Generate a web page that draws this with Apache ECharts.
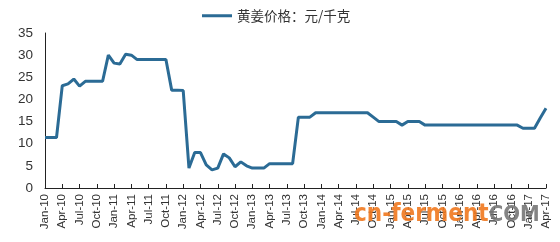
<!DOCTYPE html>
<html>
<head>
<meta charset="utf-8">
<script src="https://cdn.jsdelivr.net/npm/echarts@6/dist/echarts.min.js"></script>
<style>html,body{margin:0;padding:0;background:#fff;}#c{width:560px;height:242px;}</style>
</head>
<body>
<div id="c"></div>
<script>
var monthNames = ['Jan','Feb','Mar','Apr','May','Jun','Jul','Aug','Sep','Oct','Nov','Dec'];
var years = ['10','11','12','13','14','15','16','17'];
var lastMonthCount = 4; // 2017 runs Jan..Apr
var seriesName = '黄姜价格：元/千克';
var yTicks = [0, 5, 10, 15, 20, 25, 30, 35];
var prices = [
  // 2010
  11.4, 11.4, 11.4, 23.1, 23.5, 24.6, 23.0, 24.1, 24.1, 24.1, 24.1, 30.0,
  // 2011
  28.2, 28.0, 30.2, 30.0, 29.0, 29.0, 29.0, 29.0, 29.0, 29.0, 22.1, 22.1,
  // 2012
  22.0, 4.5, 8.0, 8.0, 5.2, 4.1, 4.5, 7.7, 6.8, 4.8, 5.9, 5.0,
  // 2013
  4.5, 4.5, 4.5, 5.5, 5.5, 5.5, 5.5, 5.5, 16.0, 16.0, 16.0, 17.0,
  // 2014
  17.0, 17.0, 17.0, 17.0, 17.0, 17.0, 17.0, 17.0, 17.0, 16.0, 15.0, 15.0,
  // 2015
  15.0, 15.0, 14.2, 15.0, 15.0, 15.0, 14.2, 14.2, 14.2, 14.2, 14.2, 14.2,
  // 2016
  14.2, 14.2, 14.2, 14.2, 14.2, 14.2, 14.2, 14.2, 14.2, 14.2, 14.2, 13.5,
  // 2017
  13.5, 13.5, 15.8, 18.0
];

var categories = [];
years.forEach(function (y, i) {
  var n = (i === years.length - 1) ? lastMonthCount : 12;
  for (var m = 0; m < n; m++) categories.push(monthNames[m] + '-' + y);
});

var chart = echarts.init(document.getElementById('c'), null, {renderer: 'canvas'});
chart.setOption({
  animation: false,
  backgroundColor: '#ffffff',
  legend: {
    top: 4,
    left: 197,
    itemWidth: 30,
    itemHeight: 12,
    itemGap: 3,
    icon: 'path://M0,5 L30,5 L30,8 L0,8 Z',
    textStyle: {fontFamily: 'Noto Sans CJK SC', fontSize: 13.5, color: '#333'},
    data: [seriesName]
  },
  grid: {left: 45, right: 14, top: 33, bottom: 54},
  xAxis: {
    type: 'category',
    boundaryGap: false,
    data: categories,
    axisLine: {lineStyle: {color: '#222', width: 1}},
    axisTick: {show: true, inside: true, length: 4, interval: 2, lineStyle: {color: '#222'}},
    axisLabel: {
      interval: 2,
      rotate: 90,
      margin: 6,
      fontFamily: 'Liberation Sans',
      fontSize: 11.5,
      color: '#333'
    },
    splitLine: {show: false}
  },
  yAxis: {
    type: 'value',
    min: yTicks[0],
    max: yTicks[yTicks.length - 1],
    interval: 5,
    axisLine: {show: true, lineStyle: {color: '#222', width: 1}},
    axisTick: {show: false},
    axisLabel: {margin: 12, fontFamily: 'Liberation Sans', fontSize: 13.5, color: '#333'},
    splitLine: {show: false}
  },
  series: [{
    name: seriesName,
    type: 'line',
    data: prices,
    symbol: 'none',
    lineStyle: {color: '#2b6b95', width: 3},
    itemStyle: {color: '#2b6b95'}
  }],
  graphic: [{
    type: 'text',
    left: 354,
    top: 203,
    z: 100,
    style: {
      text: '{a|cn-ferment}{b|COM}',
      rich: {
        a: {fontFamily: 'DejaVu Sans Condensed', fontWeight: 'bold', fontSize: 24, fill: 'rgba(240,120,30,0.9)'},
        b: {fontFamily: 'DejaVu Sans Condensed', fontWeight: 'bold', fontSize: 22, fill: 'rgba(110,110,110,0.85)'}
      }
    }
  }]
});
</script>
</body>
</html>
